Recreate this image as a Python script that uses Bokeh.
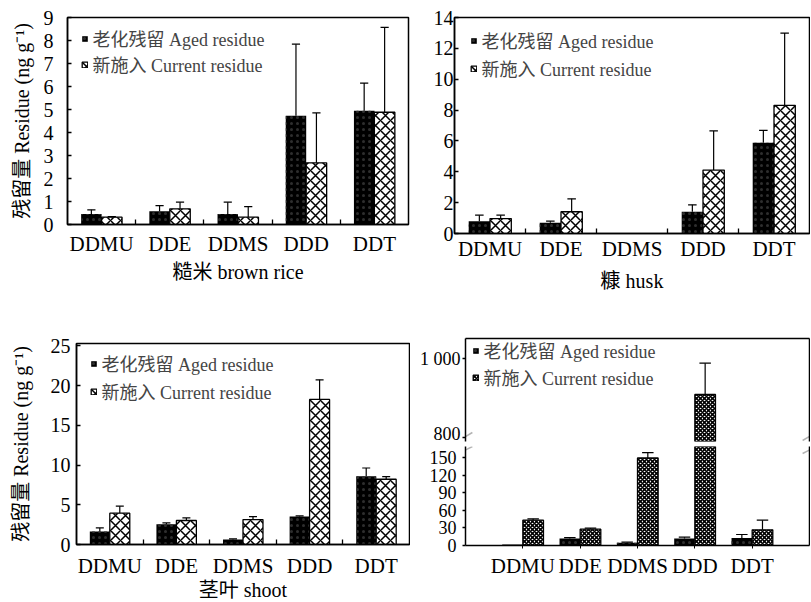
import numpy as np
from bokeh.plotting import figure
from bokeh.models import (FixedTicker, LinearAxis, Range1d, Legend, LegendItem,
                          PolyAnnotation)
from bokeh.layouts import row, column
from bokeh.embed import file_html
from bokeh.resources import INLINE

# ---------------- data ----------------
compounds = ["DDMU", "DDE", "DDMS", "DDD", "DDT"]
aged_label = "老化残留 Aged residue"
current_label = "新施入 Current residue"
ylabel = "残留量 Residue (ng g⁻¹)"

rice_aged = [0.46, 0.58, 0.46, 4.73, 4.95]
rice_aged_sd = [0.18, 0.24, 0.51, 3.11, 1.20]
rice_current = [0.32, 0.68, 0.32, 2.68, 4.88]
rice_current_sd = [0.02, 0.29, 0.46, 2.17, 3.69]

husk_aged = [0.80, 0.69, 0.0, 1.41, 5.89]
husk_aged_sd = [0.39, 0.11, 0.0, 0.45, 0.80]
husk_current = [0.97, 1.41, 0.0, 4.11, 8.31]
husk_current_sd = [0.22, 0.84, 0.0, 2.54, 4.68]

shoot_aged = [1.63, 2.55, 0.63, 3.52, 8.58]
shoot_aged_sd = [0.46, 0.17, 0.07, 0.08, 1.05]
shoot_current = [3.94, 3.02, 3.14, 18.26, 8.21]
shoot_current_sd = [0.88, 0.33, 0.38, 2.47, 0.33]

p4_aged = [1.5, 11.9, 4.5, 11.9, 13.0]
p4_aged_sd = [0.0, 1.7, 1.2, 2.3, 5.8]
p4_current = [43.2, 27.8, 149.4, 909.0, 26.7]
p4_current_sd = [2.3, 1.7, 9.1, 80.0, 16.5]

rice_ticks = list(range(0, 10))
husk_ticks = list(range(0, 15, 2))
shoot_ticks = list(range(0, 26, 5))
p4_low_ticks = [0, 30, 60, 90, 120, 150]
p4_high_ticks = [800, 1000]

FONT = "Liberation Serif, Noto Sans CJK SC"
SERIF = "Liberation Serif"


def base_fig(fw, fh, bl, br, bt, bb, xr, yr, xloc="below"):
    p = figure(frame_width=fw, frame_height=fh, min_border_left=bl, min_border_right=br,
               min_border_top=bt, min_border_bottom=bb, x_range=xr, y_range=yr,
               x_axis_location=xloc, output_backend="svg", toolbar_location=None)
    p.xgrid.visible = False
    p.ygrid.visible = False
    p.background_fill_color = "white"
    p.border_fill_color = "white"
    p.outline_line_color = "black"
    p.outline_line_width = 1.5
    return p


def style_y(ax, ticks, size="20px", tin=4, tout=0, standoff=10, overrides=None):
    ax.ticker = FixedTicker(ticks=ticks)
    ax.axis_line_color = "black"
    ax.axis_line_width = 1.5
    ax.major_tick_in = tin
    ax.major_tick_out = tout
    ax.major_tick_line_width = 1.3
    ax.minor_tick_line_color = None
    ax.major_label_text_font = SERIF
    ax.major_label_text_font_size = size
    ax.major_label_text_color = "black"
    ax.major_label_standoff = standoff
    if overrides:
        ax.major_label_overrides = overrides


def style_x(ax, centers, bounds, standoff=8):
    ax.ticker = FixedTicker(ticks=list(centers), minor_ticks=list(bounds))
    ax.axis_line_color = "black"
    ax.axis_line_width = 1.5
    ax.major_tick_line_color = None
    ax.minor_tick_line_color = "black" if len(bounds) else None
    ax.minor_tick_line_width = 1.3
    ax.minor_tick_in = 5
    ax.minor_tick_out = 0
    ax.major_label_overrides = {float(c): n for c, n in zip(centers, compounds)}
    ax.major_label_text_font = SERIF
    ax.major_label_text_font_size = "21px"
    ax.major_label_text_color = "black"
    ax.major_label_standoff = standoff


def add_bars(p, centers, aged, aged_sd, cur, cur_sd, bw, cur_hatch, cur_scale, cap,
             cur_weight=1.5):
    ylo, yhi = p.y_range.start, p.y_range.end
    base = max(0.0, ylo)
    rs = []
    # aged residue: solid black (no outline needed); bars below this y-range get zero height
    xa = np.array(centers) - bw / 2
    va = np.array(aged, dtype=float)
    rs.append(p.vbar(x=xa, top=np.clip(va, base, yhi), bottom=base, width=bw,
                     fill_color="black", line_color=None, hatch_pattern=".",
                     hatch_color="#2e2e2e", hatch_scale=6, hatch_weight=0.7))
    # current residue: outlined, hatched; only bars that reach into this y-range
    xb = np.array(centers) + bw / 2
    vb = np.array(cur, dtype=float)
    vis = vb > ylo
    rs.append(p.vbar(x=xb[vis], top=np.minimum(vb[vis], yhi), bottom=base, width=bw,
                     fill_color="white", line_color="black", line_width=1.3,
                     hatch_pattern=cur_hatch, hatch_color="black", hatch_scale=cur_scale,
                     hatch_weight=cur_weight))
    for xs, v, sd in ((xa, va, aged_sd), (xb, vb, cur_sd)):
        sd = np.array(sd, dtype=float)
        top = v + sd
        m = (sd > 0) & (top > ylo) & (v < yhi)
        p.segment(x0=xs[m], y0=np.maximum(v[m], ylo), x1=xs[m], y1=np.minimum(top[m], yhi),
                  line_color="black", line_width=1.2)
        mc = (sd > 0) & (top > ylo) & (top <= yhi)
        p.segment(x0=xs[mc] - cap, y0=top[mc], x1=xs[mc] + cap, y1=top[mc],
                  line_color="black", line_width=1.2)
    return rs


def add_legend(p, rs, fh, gx, gy, pitch, size="18px"):
    row_h = 26
    spacing = pitch - row_h
    height = 2 * row_h + spacing
    top = gy - row_h / 2
    leg = Legend(items=[LegendItem(label=aged_label, renderers=[rs[0]]),
                        LegendItem(label=current_label, renderers=[rs[1]])],
                 location=(gx - 3.5, fh - top - height), margin=0, padding=0,
                 spacing=spacing, glyph_width=7, glyph_height=7, label_standoff=5,
                 border_line_color=None, background_fill_alpha=0,
                 label_text_font=FONT, label_text_font_size=size, label_height=18)
    p.add_layout(leg)


def xtitle(ax, text, standoff, size="20px"):
    ax.axis_label = text
    ax.axis_label_text_font = FONT
    ax.axis_label_text_font_size = size
    ax.axis_label_text_font_style = "normal"
    ax.axis_label_text_color = "black"
    ax.axis_label_standoff = standoff


def ytitle(ax, standoff):
    ax.axis_label = ylabel
    ax.axis_label_text_font = FONT
    ax.axis_label_text_font_size = "20px"
    ax.axis_label_text_font_style = "normal"
    ax.axis_label_text_color = "black"
    ax.axis_label_standoff = standoff


centers5 = np.arange(len(compounds)) + 0.5
bounds5 = np.arange(1, len(compounds))

# ---------------- panel 1: brown rice ----------------
p1 = base_fig(341, 207, 67, 2, 17, 76, Range1d(0, 5), Range1d(0, 9))
style_x(p1.xaxis[0], centers5, bounds5, standoff=1)
style_y(p1.yaxis[0], rice_ticks, standoff=14)
ytitle(p1.yaxis[0], 8)
xtitle(p1.xaxis[0], "糙米 brown rice", 2)
rs = add_bars(p1, centers5, rice_aged, rice_aged_sd, rice_current, rice_current_sd,
              0.3, "x", 10, 0.06)
add_legend(p1, rs, 207, 17, 24, 23)

# ---------------- panel 2: husk ----------------
p2 = base_fig(355, 216, 44, 1, 15, 69, Range1d(0, 5), Range1d(0, 14))
style_x(p2.xaxis[0], centers5, bounds5, standoff=-3)
style_y(p2.yaxis[0], husk_ticks, standoff=1)
xtitle(p2.xaxis[0], "糠 husk", 6)
rs = add_bars(p2, centers5, husk_aged, husk_aged_sd, husk_current, husk_current_sd,
              0.3, "x", 10, 0.06)
add_legend(p2, rs, 216, 19, 23, 28)

# ---------------- panel 3: shoot ----------------
p3 = base_fig(333, 201, 76, 1, 43, 56, Range1d(0, 5), Range1d(0, 25.3))
style_x(p3.xaxis[0], centers5, bounds5, standoff=3)
style_y(p3.yaxis[0], shoot_ticks, standoff=6)
ytitle(p3.yaxis[0], 16)
xtitle(p3.xaxis[0], "茎叶 shoot", -2)
rs = add_bars(p3, centers5, shoot_aged, shoot_aged_sd, shoot_current, shoot_current_sd,
              0.3, "x", 10, 0.06)
add_legend(p3, rs, 201, 17, 20, 28)

# ---------------- panel 4: broken axis ----------------
centers6 = np.arange(len(compounds)) + 1.0
xr4 = Range1d(0, 6)


def plain_axis():
    return LinearAxis(ticker=FixedTicker(ticks=[]), major_label_text_font_size="0px",
                      major_tick_line_color=None, minor_tick_line_color=None,
                      axis_line_color="black", axis_line_width=1.5, major_label_standoff=0)


# upper segment (800 - 1050)
p4u = base_fig(344, 103, 55, 1, 38, 2, xr4, Range1d(789, 1052), xloc=None)
p4u.outline_line_color = None
style_y(p4u.yaxis[0], p4_high_ticks, size="18px", tin=0, tout=3, standoff=2,
        overrides={1000: "1 000"})
p4u.add_layout(plain_axis(), "above")
p4u.add_layout(plain_axis(), "right")
rs = add_bars(p4u, centers6, p4_aged, p4_aged_sd, p4_current, p4_current_sd,
              0.36, "x", 4, 0.1, cur_weight=1.6)
add_legend(p4u, rs, 103, 10, 12, 27)

# lower segment (0 - 169)
p4l = base_fig(344, 99, 55, 1, 3, 55, xr4, Range1d(0, 169))
p4l.outline_line_color = None
style_y(p4l.yaxis[0], p4_low_ticks, size="18px", tin=0, tout=3, standoff=6)
style_x(p4l.xaxis[0], centers6, [], standoff=5)
p4l.xaxis[0].major_tick_line_color = "black"
p4l.xaxis[0].major_tick_in = 0
p4l.xaxis[0].major_tick_out = 3
p4l.add_layout(plain_axis(), "right")
add_bars(p4l, centers6, p4_aged, p4_aged_sd, p4_current, p4_current_sd,
         0.36, "x", 4, 0.1, cur_weight=1.6)

# axis-break marks
for x in (0, 6):
    p4u.add_layout(PolyAnnotation(xs=[x - 0.12, x + 0.12], ys=[791.6, 812.0],
                                  line_color="black", line_width=1.5, fill_color=None))
    p4l.add_layout(PolyAnnotation(xs=[x - 0.12, x + 0.12], ys=[157.0, 169.0],
                                  line_color="black", line_width=1.5, fill_color=None))

layout = column(row(p1, p2), row(p3, column(p4u, p4l)))

open("out.html", "w").write(file_html(layout, INLINE))
